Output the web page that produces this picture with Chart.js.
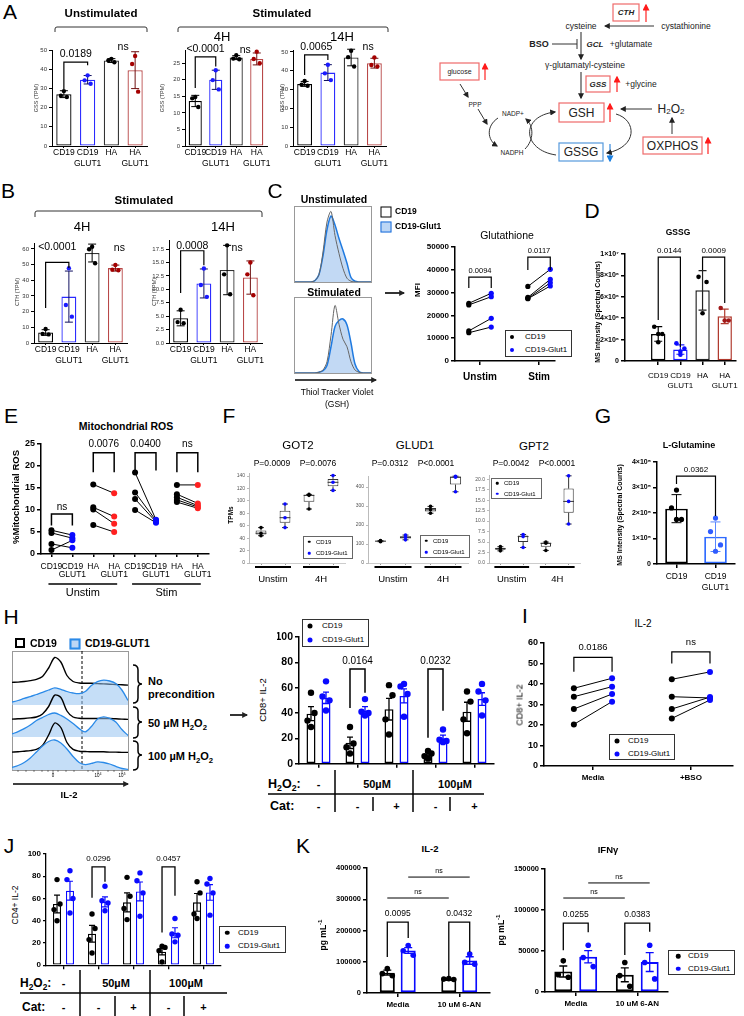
<!DOCTYPE html>
<html>
<head>
<meta charset="utf-8">
<script src="https://cdn.jsdelivr.net/npm/chart.js@4.4.1/dist/chart.umd.min.js"></script>
<style>
  body { margin: 0; width: 744px; height: 1016px; position: relative; overflow: hidden; background: #fff;
         font-family: 'Liberation Sans', Arial, sans-serif; color: #000; }
  canvas { position: absolute; }
  .t { position: absolute; white-space: nowrap; line-height: 1; transform: translate(-50%, -50%); }
  .l { transform: translate(0, -50%); }
  .v { transform: translate(-50%, -50%) rotate(-90deg); }
  .b { font-weight: bold; }
  .lg { position: absolute; border: 1px solid #333; box-sizing: border-box; background: #fff; }
  sub, sup { font-size: 70%; line-height: 0; }
</style>
</head>
<body>
<svg width="744" height="1016" style="position:absolute;left:0;top:0" font-family="Liberation Sans, Arial, sans-serif">
  <defs>
    <marker id="ah" viewBox="0 0 10 10" refX="8" refY="5" markerWidth="6" markerHeight="6" markerUnits="userSpaceOnUse" orient="auto"><path d="M0 0L10 5L0 10z" fill="#222"/></marker>
    <marker id="ahr" viewBox="0 0 10 10" refX="8" refY="5" markerWidth="7" markerHeight="7" markerUnits="userSpaceOnUse" orient="auto"><path d="M0 0L10 5L0 10z" fill="#ff1a1a"/></marker>
    <marker id="ahb" viewBox="0 0 10 10" refX="8" refY="5" markerWidth="7" markerHeight="7" markerUnits="userSpaceOnUse" orient="auto"><path d="M0 0L10 5L0 10z" fill="#1a7fe0"/></marker>
  </defs>
  <!-- group brackets A / B -->
  <g fill="none" stroke="#333" stroke-width="1">
    <path d="M55 32V29Q55 27 57 27H145Q147 27 147 29V32"/>
    <path d="M178 32V29Q178 27 180 27H386Q388 27 388 29V32"/>
    <path d="M35 217V213Q35 211 37 211H260Q262 211 262 213V217"/>
  </g>
  <!-- histogram frames -->
  <g fill="none" stroke="#999" stroke-width="1">
    <rect x="294.5" y="206.5" width="77" height="76"/>
    <rect x="294.5" y="297.5" width="77" height="76"/>
    <rect x="12.5" y="651.5" width="116" height="119"/>
  </g>
  <line x1="82" y1="651" x2="82" y2="770" stroke="#000" stroke-width="1" stroke-dasharray="3,2"/>
  <!-- arrows -->
  <g stroke="#000" stroke-width="1.6" fill="none">
    <line x1="295" y1="380" x2="376" y2="380" marker-end="url(#ah)"/>
    <line x1="385" y1="293" x2="404" y2="293" marker-end="url(#ah)"/>
    <line x1="230" y1="715" x2="247" y2="715" marker-end="url(#ah)"/>
    <line x1="13" y1="784" x2="128" y2="784" marker-end="url(#ah)"/>
  </g>
  <!-- H histogram axis ticks -->
  <g stroke="#333" stroke-width="0.6">
    <line x1="18" y1="770" x2="18" y2="772"/><line x1="26" y1="770" x2="26" y2="772"/><line x1="34" y1="770" x2="34" y2="772"/>
    <line x1="42" y1="770" x2="42" y2="772"/><line x1="48" y1="770" x2="48" y2="772"/><line x1="53" y1="770" x2="53" y2="774"/>
    <line x1="58" y1="770" x2="58" y2="772"/><line x1="66" y1="770" x2="66" y2="772"/><line x1="74" y1="770" x2="74" y2="772"/>
    <line x1="88" y1="770" x2="88" y2="772"/><line x1="93" y1="770" x2="93" y2="772"/><line x1="98" y1="770" x2="98" y2="774"/>
    <line x1="108" y1="770" x2="108" y2="772"/><line x1="114" y1="770" x2="114" y2="772"/><line x1="122" y1="770" x2="122" y2="774"/>
  </g>
  <!-- H braces -->
  <g fill="none" stroke="#000" stroke-width="1.5">
    <path d="M133 665Q138 665 138 670V680Q138 684 142 684Q138 684 138 688V698Q138 703 133 703"/>
    <path d="M133 707Q138 707 138 711V718Q138 722 142 722Q138 722 138 726V734Q138 738 133 738"/>
    <path d="M133 741Q138 741 138 745V751Q138 755 142 755Q138 755 138 759V766Q138 770 133 770"/>
  </g>
  <!-- H / J condition tables -->
  <g stroke="#000" stroke-width="1.5">
    <line x1="335" y1="770" x2="335" y2="812"/><line x1="413" y1="770" x2="413" y2="812"/>
    <line x1="268" y1="794" x2="484" y2="794"/>
    <line x1="373" y1="797" x2="373" y2="811"/><line x1="450" y1="797" x2="450" y2="811"/>
    <line x1="80" y1="970" x2="80" y2="1016"/><line x1="150" y1="970" x2="150" y2="1016"/>
    <line x1="20" y1="993" x2="227" y2="993"/>
    <line x1="115" y1="996" x2="115" y2="1016"/><line x1="184" y1="996" x2="184" y2="1016"/>
  </g>
  <!-- pathway diagram -->
  <g font-size="8.5" text-anchor="middle" dominant-baseline="central" fill="#222">
    <rect x="613" y="4" width="26" height="17" fill="none" stroke="#ee6a6a" stroke-width="1.2"/>
    <text x="626" y="12.5" font-weight="bold" font-style="italic" font-size="8">CTH</text>
    <line x1="646" y1="22" x2="646" y2="5" stroke="#ff2222" stroke-width="1.2" marker-end="url(#ahr)"/>
    <text x="581" y="26">cysteine</text>
    <text x="686" y="26">cystathionine</text>
    <line x1="654" y1="26" x2="605" y2="26" stroke="#333" marker-end="url(#ah)"/>
    <line x1="581" y1="32" x2="581" y2="59" stroke="#555" stroke-width="1.3" marker-end="url(#ah)"/>
    <text x="539" y="44" font-weight="bold" font-size="9">BSO</text>
    <line x1="552" y1="44" x2="577" y2="44" stroke="#333"/>
    <line x1="577" y1="39" x2="577" y2="49" stroke="#333"/>
    <text x="595" y="44" font-weight="bold" font-style="italic" font-size="8">GCL</text>
    <text x="631" y="44">+glutamate</text>
    <text x="585" y="65">γ-glutamatyl-cysteine</text>
    <line x1="581" y1="72" x2="581" y2="98" stroke="#555" stroke-width="1.3" marker-end="url(#ah)"/>
    <rect x="586" y="76" width="24" height="16" fill="none" stroke="#ee6a6a" stroke-width="1.2"/>
    <text x="598" y="84" font-weight="bold" font-style="italic" font-size="8">GSS</text>
    <line x1="617" y1="92" x2="617" y2="77" stroke="#ff2222" stroke-width="1.2" marker-end="url(#ahr)"/>
    <text x="641" y="84">+glycine</text>
    <rect x="559" y="103" width="45" height="19" fill="none" stroke="#ee6a6a" stroke-width="1.2"/>
    <text x="581.5" y="113" font-size="12">GSH</text>
    <line x1="610" y1="122" x2="610" y2="104" stroke="#ff2222" stroke-width="1.2" marker-end="url(#ahr)"/>
    <line x1="652" y1="109" x2="621" y2="109" stroke="#333" marker-end="url(#ah)"/>
    <text x="671" y="109" font-size="12">H<tspan font-size="8" dy="2">2</tspan><tspan dy="-2">O</tspan><tspan font-size="8" dy="2">2</tspan></text>
    <rect x="643" y="137" width="59" height="17" fill="none" stroke="#ee6a6a" stroke-width="1.2"/>
    <text x="672.5" y="146" font-size="12">OXPHOS</text>
    <line x1="708" y1="154" x2="708" y2="138" stroke="#ff2222" stroke-width="1.2" marker-end="url(#ahr)"/>
    <line x1="672" y1="134" x2="672" y2="118" stroke="#333" marker-end="url(#ah)"/>
    <rect x="559" y="143" width="44" height="18" fill="none" stroke="#5599dd" stroke-width="1.2"/>
    <text x="581" y="152" font-size="12">GSSG</text>
    <line x1="610" y1="144" x2="610" y2="161" stroke="#3388dd" stroke-width="1.2" marker-end="url(#ahb)"/>
    <path d="M616 114C637 120 638 147 607 153" fill="none" stroke="#333" marker-end="url(#ah)"/>
    <path d="M556 155C522 150 520 116 555 112" fill="none" stroke="#333" marker-end="url(#ah)"/>
    <text x="513" y="113" font-size="6.5">NADP+</text>
    <text x="512" y="152" font-size="6.5">NADPH</text>
    <path d="M498 118C486 126 487 140 497 146" fill="none" stroke="#333" marker-end="url(#ah)"/>
    <path d="M525 149C534 140 534 126 526 119" fill="none" stroke="#333" marker-end="url(#ah)"/>
    <rect x="440" y="63" width="39" height="17" fill="none" stroke="#ee6a6a" stroke-width="1.2"/>
    <text x="459.5" y="71.5" font-size="7">glucose</text>
    <line x1="485" y1="80" x2="485" y2="64" stroke="#ff2222" stroke-width="1.2" marker-end="url(#ahr)"/>
    <text x="475" y="104" font-size="6.5">PPP</text>
    <line x1="460" y1="84" x2="468" y2="97" stroke="#333" marker-end="url(#ah)"/>
    <line x1="478" y1="109" x2="487" y2="124" stroke="#333" marker-end="url(#ah)"/>
  </g>
</svg>
<script>
// ---------------- data ----------------
var grp4 = [['CD19'], ['CD19', 'GLUT1'], ['HA'], ['HA', 'GLUT1']];
var seriesNames = ['CD19', 'CD19-Glut1'];

// A  GSS (TPM)
var gssUnstim = [27, 34.5, 44.5, 39.5];
var gssUnstimSd = [1.8, 2.2, 1.0, 9.6];
var gssUnstimPts = [[28.6, 26.2, 25.5], [36.8, 34.2, 32.4], [45.4, 44.6, 43.6], [46.9, 42.7, 28.3]];
var gss4h = [13.6, 20, 26.7, 26.3];
var gss4hSd = [1.7, 2.9, 0.6, 1.8];
var gss4hPts = [[14.8, 14.4, 11.8], [22.9, 19.9, 17.1], [27.4, 26.4, 26.2], [28.5, 26.3, 25]];
var gss14h = [33, 39, 47, 44];
var gss14hSd = [1.3, 4.2, 4.4, 2.6];
var gss14hPts = [[34.5, 32.6, 32], [43.2, 38.6, 35], [50.6, 47.2, 42.2], [47, 43, 42.2]];

// B  CTH (TPM)
var cth4h = [6.7, 29.6, 57.4, 47.8];
var cth4hSd = [1.8, 16.3, 5.7, 1.9];
var cth4hPts = [[8.9, 5.8, 5.5], [47.7, 24.2, 16.8], [61.4, 59.8, 50.9], [49.8, 46.8, 46.4]];
var cth14h = [4.6, 11.1, 13.6, 12.2];
var cth14hSd = [1.4, 2.7, 4.6, 3.1];
var cth14hPts = [[6.2, 3.9, 3.7], [13.9, 10.8, 8.6], [18.2, 12.8, 9.1], [15, 12.8, 8.9]];

// C  thiol tracker histograms (20 bins) and glutathione MFI
var histBins = [0, 1, 2, 3, 4, 5, 6, 7, 8, 9, 10, 11, 12, 13, 14, 15, 16, 17, 18, 19];
var cUnCd19 = [0, 0, 0, 0, 0, 2, 10, 40, 80, 94, 62, 38, 18, 5, 1, 0, 0, 0, 0, 0];
var cUnGlut1 = [0, 0, 0, 0, 0, 2, 10, 35, 70, 88, 76, 58, 42, 25, 6, 1, 0, 0, 0, 0];
var cStCd19 = [0, 0, 0, 0, 0, 0, 1, 4, 15, 50, 90, 65, 45, 35, 15, 4, 1, 0, 0, 0];
var cStGlut1 = [0, 0, 0, 0, 0, 0, 1, 3, 10, 35, 62, 70, 72, 64, 40, 12, 2, 0, 0, 0];
var gshCats = ['Unstim', 'Stim'];
var gshUnCd19 = [25300, 24600, 13200, 12400];
var gshUnGlut1 = [29700, 28200, 18700, 14900];
var gshStCd19 = [32700, 27900, 27500, 27300];
var gshStGlut1 = [40200, 35800, 34300, 32900];

// D  GSSG
var gssg = [2.6e6, 1.1e6, 6.8e6, 4.3e6];
var gssgSd = [0.7e6, 0.45e6, 1.9e6, 0.7e6];
var gssgPts = [[3.3e6, 2.6e6, 2.6e6, 1.8e6], [1.7e6, 1.2e6, 0.9e6, 0.6e6], [8.1e6, 7.6e6, 4.6e6], [5.1e6, 3.9e6, 3.9e6]];

// E  mitochondrial ROS (paired donors)
var rosCats = [['CD19'], ['CD19', 'GLUT1'], ['HA'], ['HA', 'GLUT1'], ['CD19'], ['CD19', 'GLUT1'], ['HA'], ['HA', 'GLUT1']];
var rosGroups = ['Unstim', 'Stim'];
var rosUnCd19 = [5.4, 4.8, 2.3, 0.9];
var rosUnGlut1 = [4.3, 3.6, 1.4, 3.1];
var rosUnHa = [15.8, 10.6, 10.1, 6.6];
var rosUnHaGlut1 = [13.8, 8.5, 6.9, 5.0];
var rosStCd19 = [18.5, 14, 12.5, 10];
var rosStGlut1 = [7.8, 7.6, 7.3, 7.1];
var rosStHa = [15.7, 13.6, 12.9, 12.3, 11.8];
var rosStHaGlut1 = [15.7, 11.5, 11.0, 10.7, 10.4];

// F  box plots [min, q1, median, q3, max]
var fGroups = ['Unstim', '4H'];
var fCats = ['CD19', 'CD19-Glut1', 'CD19', 'CD19-Glut1'];
var got2Box = [[44, 46, 48, 52.5, 57], [57, 65, 73, 84, 95], [87, 98.5, 109, 110, 110.5], [117, 123.5, 130, 135.5, 141]];
var got2Pts = [[57, 48, 44], [95, 73, 57], [110.5, 109, 87], [141, 130, 117]];
var glud1Box = [[112, 113.5, 115, 116.5, 118], [122, 128.5, 135, 141, 147], [262, 271, 280, 289, 298], [375, 413, 452, 454.5, 457]];
var glud1Pts = [[118, 115, 112], [147, 135, 122], [298, 280, 262], [457, 452, 375]];
var gpt2Box = [[2.9, 3.15, 3.4, 3.65, 3.9], [3.7, 5.0, 6.3, 6.55, 6.8], [3.0, 3.85, 4.7, 4.85, 5.0], [9.3, 12.0, 14.7, 17.75, 20.8]];
var gpt2Pts = [[3.9, 3.4, 2.9], [6.8, 6.3, 3.7], [5.0, 4.7, 3.0], [20.8, 14.7, 9.3]];

// G  L-glutamine
var glnCats = [['CD19'], ['CD19', 'GLUT1']];
var gln = [2.17e5, 1.07e5];
var glnSd = [0.55e5, 0.58e5];
var glnPts = [[2.9e5, 2.2e5, 1.75e5, 1.75e5], [1.8e5, 1.27e5, 0.75e5, 0.5e5]];

// H  IL-2 histograms (20 bins per row) and CD8+ IL-2 bars
var hHistCd19None = [12, 13, 15, 18, 22, 32, 60, 95, 80, 35, 15, 10, 9, 9, 8, 7, 6, 5, 4, 3];
var hHistGlut1None = [10, 15, 22, 28, 35, 42, 50, 57, 52, 45, 40, 38, 45, 65, 78, 83, 80, 72, 50, 15];
var hHistCd19Low = [3, 4, 5, 7, 10, 20, 45, 83, 75, 30, 10, 6, 5, 5, 5, 5, 5, 4, 3, 2];
var hHistGlut1Low = [10, 18, 28, 40, 55, 65, 75, 80, 72, 60, 45, 28, 17, 35, 60, 67, 62, 50, 25, 5];
var hHistCd19High = [3, 4, 6, 8, 12, 25, 60, 100, 85, 35, 12, 6, 5, 4, 4, 4, 3, 3, 2, 2];
var hHistGlut1High = [8, 15, 25, 40, 60, 80, 95, 100, 90, 70, 45, 25, 18, 22, 27, 25, 20, 12, 5, 2];
var h2o2Row = ['-', '50µM', '100µM'];
var catRow = ['-', '-', '+', '-', '+'];
var hCd19 = [39.5, 16.5, 43, 7.5, 41];
var hGlut1 = [52, 42, 53.5, 20, 51];
var hCd19Sem = [5.5, 4.5, 8.5, 1.5, 7.5];
var hGlut1Sem = [4.5, 3, 5.5, 2.5, 5];
var hCd19Pts = [[56, 40, 34, 29], [29, 16, 13, 8], [62, 54, 35, 23], [10, 8, 6, 4], [57, 49, 35, 24]];
var hGlut1Pts = [[65, 53, 50, 42], [51, 41, 40, 38], [63, 61, 55, 37], [27, 19, 18, 17], [63, 57, 50, 38]];

// I  IL-2 with BSO (paired)
var bsoCats = ['Media', '+BSO'];
var il2MediaCd19 = [37.9, 33.8, 27.8, 20.3];
var il2MediaGlut1 = [42.8, 38.7, 35.1, 31.4];
var il2BsoCd19 = [42.3, 33.8, 27.8, 23.2];
var il2BsoGlut1 = [45.9, 33.2, 33.6, 32.2];

// J  CD4+ IL-2
var jCd19 = [55, 28.3, 56.5, 12.2, 56.5];
var jGlut1 = [67, 57, 66.3, 29.2, 65.4];
var jCd19Sem = [8, 7.5, 8.5, 3, 8];
var jGlut1Sem = [8.5, 4.5, 8.5, 4.5, 7];
var jCd19Pts = [[77, 55, 50, 40], [46, 33, 23, 11], [79, 62, 51, 41], [17, 16, 13, 3], [75, 65, 46, 42]];
var jGlut1Pts = [[85, 77, 60, 47], [71, 58, 56, 49], [83, 76, 65, 44], [42, 28, 27, 21], [78, 73, 65, 45]];

// K  cytokines with 6-AN
var anCats = ['Media', '10 uM 6-AN'];
var il2AnCd19 = [65000, 44500];
var il2AnGlut1 = [136000, 104000];
var il2AnCd19Sem = [8000, 1000];
var il2AnGlut1Sem = [9000, 12000];
var il2AnCd19Pts = [[78000, 62000, 55000], [46000, 44500, 43000]];
var il2AnGlut1Pts = [[152000, 135000, 121000], [125000, 98000, 92000]];
var ifnAnCd19 = [25000, 21000];
var ifnAnGlut1 = [43000, 36500];
var ifnAnCd19Sem = [6700, 8500];
var ifnAnGlut1Sem = [7500, 11500];
var ifnAnCd19Pts = [[38000, 21000, 18000], [36000, 20000, 7000]];
var ifnAnGlut1Pts = [[57000, 42000, 31000], [57000, 36000, 16000]];

// ---------------- helpers ----------------
var FAM = "'Liberation Sans', Arial, sans-serif";
Chart.defaults.font.family = FAM;
Chart.defaults.color = '#000';
Chart.defaults.animation = false;
Chart.defaults.events = [];
Chart.defaults.plugins.legend.display = false;
Chart.defaults.plugins.tooltip.enabled = false;

var BLUE = '#0a0aff';

function pick(v, i) { return Array.isArray(v) ? v[i] : v; }

// error bars, dots, significance brackets, group underlines, box whiskers
var deco = {
  id: 'deco',
  afterDraw: function (chart, args, o) {
    var ctx = chart.ctx, ys = chart.scales.y, xs = chart.scales.x;
    function xp(a) { return Array.isArray(a) ? chart.getDatasetMeta(a[0]).data[a[1]].x : xs.getPixelForValue(a); }
    ctx.save();
    (o.boxes || []).forEach(function (bx) {
      bx.stats.forEach(function (s, i) {
        var x = xs.getPixelForValue(i), w = bx.cap;
        ctx.strokeStyle = bx.col; ctx.lineWidth = 1;
        ctx.beginPath();
        ctx.moveTo(x, ys.getPixelForValue(s[3])); ctx.lineTo(x, ys.getPixelForValue(s[4]));
        ctx.moveTo(x - w, ys.getPixelForValue(s[4])); ctx.lineTo(x + w, ys.getPixelForValue(s[4]));
        ctx.moveTo(x, ys.getPixelForValue(s[1])); ctx.lineTo(x, ys.getPixelForValue(s[0]));
        ctx.moveTo(x - w, ys.getPixelForValue(s[0])); ctx.lineTo(x + w, ys.getPixelForValue(s[0]));
        ctx.moveTo(x - bx.half, ys.getPixelForValue(s[2])); ctx.lineTo(x + bx.half, ys.getPixelForValue(s[2]));
        ctx.stroke();
      });
    });
    (o.bars || []).forEach(function (b) {
      var ds = b.ds || 0, meta = chart.getDatasetMeta(ds), vals = chart.data.datasets[ds].data;
      meta.data.forEach(function (el, i) {
        var v = vals[i], x = el.x;
        if (b.err && typeof v === 'number') {
          var e = b.err[i], yt = ys.getPixelForValue(v + e), yb = ys.getPixelForValue(Math.max(v - e, 0));
          ctx.strokeStyle = pick(b.col, i); ctx.lineWidth = b.ew || 1;
          ctx.beginPath();
          ctx.moveTo(x, yt); ctx.lineTo(x, yb);
          ctx.moveTo(x - b.cap, yt); ctx.lineTo(x + b.cap, yt);
          ctx.moveTo(x - b.cap, yb); ctx.lineTo(x + b.cap, yb);
          ctx.stroke();
        }
        (b.pts[i] || []).forEach(function (p, k) {
          ctx.fillStyle = pick(b.pc, i);
          ctx.beginPath();
          ctx.arc(x + (b.jit ? b.jit[k % b.jit.length] : 0), ys.getPixelForValue(p), b.r, 0, Math.PI * 2);
          ctx.fill();
        });
      });
    });
    (o.brk || []).forEach(function (k) {
      var fs = k.fs || o.fs || 9, gap = k.gap != null ? k.gap : (o.gap || 7);
      ctx.font = (o.fw || 'normal') + ' ' + fs + 'px ' + FAM;
      ctx.fillStyle = '#000'; ctx.textAlign = 'center'; ctx.textBaseline = 'middle';
      if (k.b == null) {
        ctx.fillText(k.t, xp(k.a) + (k.dx || 0), ys.getPixelForValue(k.y));
        return;
      }
      var xa = xp(k.a), xb = xp(k.b), yt = ys.getPixelForValue(k.y);
      ctx.strokeStyle = '#000'; ctx.lineWidth = k.lw || o.lw || 1.2;
      ctx.beginPath();
      if (k.la != null) { ctx.moveTo(xa, ys.getPixelForValue(k.la)); ctx.lineTo(xa, yt); } else ctx.moveTo(xa, yt);
      ctx.lineTo(xb, yt);
      if (k.lb != null) ctx.lineTo(xb, ys.getPixelForValue(k.lb));
      ctx.stroke();
      ctx.fillText(k.t, (xa + xb) / 2, yt - gap);
    });
    (o.groups || []).forEach(function (g) {
      var x0 = xp(g.from) - g.ext, x1 = xp(g.to) + g.ext, y = chart.chartArea.bottom + g.dy;
      ctx.strokeStyle = '#000'; ctx.lineWidth = g.lw;
      ctx.beginPath(); ctx.moveTo(x0, y); ctx.lineTo(x1, y); ctx.stroke();
      ctx.font = g.fs + 'px ' + FAM; ctx.fillStyle = '#000'; ctx.textAlign = 'center'; ctx.textBaseline = 'middle';
      ctx.fillText(g.t, (x0 + x1) / 2, y + g.ty);
    });
    ctx.restore();
  }
};
Chart.register(deco);

// canvas whose chart area lands exactly on box = [left, top, right, bottom]
function mk(box, pad, cfg) {
  var l = pad[0], t = pad[1], r = pad[2], b = pad[3];
  var w = box[2] - box[0] + l + r, h = box[3] - box[1] + t + b;
  var c = document.createElement('canvas');
  c.width = w; c.height = h;
  c.style.left = (box[0] - l) + 'px';
  c.style.top = (box[1] - t) + 'px';
  document.body.appendChild(c);
  var o = cfg.options = cfg.options || {};
  o.responsive = false;
  o.animation = false;
  var sc = o.scales = o.scales || {};
  var padL = 0, padB = 0;
  if (sc.y && sc.y.display !== false) sc.y.afterFit = function (s) { s.width = l; }; else padL = l;
  if (sc.x && sc.x.display !== false) sc.x.afterFit = function (s) { s.height = b; }; else padB = b;
  o.layout = { padding: { left: padL, top: t, right: r, bottom: padB } };
  var ch = new Chart(c, cfg);
  ch.$left = box[0] - l; ch.$top = box[1] - t;
  return ch;
}

function yAx(max, step, fs, o) {
  o = o || {};
  return {
    min: 0, max: max,
    ticks: { stepSize: step, includeBounds: false, font: { size: fs, weight: o.bold ? 'bold' : 'normal' },
             color: o.tc || '#000', padding: o.pad || 2, callback: o.cb || function (v) { return String(v); } },
    grid: { drawOnChartArea: false, tickLength: o.tl || 3, color: o.bc || '#000', lineWidth: o.lw || 1 },
    border: { color: o.bc || '#000', width: o.lw || 1 }
  };
}
function xCat(fs, o) {
  o = o || {};
  return {
    offset: true,
    ticks: { display: !o.hide, font: { size: fs, weight: o.bold ? 'bold' : 'normal', lineHeight: o.lh || 1.2 },
             padding: o.pad || 0, maxRotation: 0, autoSkip: false, color: '#000' },
    grid: { offset: false, drawOnChartArea: false, tickLength: o.tl || 2, color: o.gc || o.bc || '#000', lineWidth: o.lw || 1 },
    border: { color: o.bc || '#000', width: o.lw || 1 }
  };
}
function xLin(min, max, cats, fs, o) {
  o = o || {};
  return {
    type: 'linear', min: min, max: max,
    afterBuildTicks: function (s) { s.ticks = cats.map(function (c, i) { return { value: i + 1 }; }); },
    ticks: { callback: function (v, i) { return cats[i]; }, font: { size: fs, weight: 'bold' }, padding: o.pad || 3, maxRotation: 0 },
    grid: { drawOnChartArea: false, tickLength: 4, color: '#000', lineWidth: o.lw || 1.5 },
    border: { color: '#000', width: o.lw || 1.5 }
  };
}
var SUP = { 5: '⁵', 6: '⁶', 7: '⁷' };
function sci(v) {
  if (v === 0) return '0';
  var p = Math.floor(Math.log10(v) + 1e-9);
  return Math.round(v / Math.pow(10, p)) + '×10' + SUP[p];
}
// paired-donor line datasets on a linear x axis
function pairSets(xa, xb, a, b, ca, cb, r) {
  return a.map(function (v, k) {
    return { data: [{ x: xa, y: v }, { x: xb, y: b[k] }], borderColor: '#000', borderWidth: 1,
             pointRadius: r, pointBorderWidth: 0, pointBackgroundColor: [ca, cb] };
  });
}

function T(x, y, s, size, cls, css) {
  var d = document.createElement('div');
  d.className = 't ' + (cls || '');
  d.innerHTML = s;
  d.style.left = x + 'px'; d.style.top = y + 'px'; d.style.fontSize = size + 'px';
  if (css) d.style.cssText += css;
  document.body.appendChild(d);
  return d;
}
function legend(l, t, w, h, fs, dot, bx, tx, cols, border) {
  var d = document.createElement('div');
  d.className = 'lg';
  d.style.cssText += 'left:' + l + 'px;top:' + t + 'px;width:' + w + 'px;height:' + h + 'px;' + (border ? 'border-color:' + border + ';' : '');
  document.body.appendChild(d);
  seriesNames.forEach(function (n, k) {
    var y = t + h * (2 * k + 1) / (2 * seriesNames.length);
    T(l + bx, y, '', 0, '', 'width:' + dot + 'px;height:' + dot + 'px;border-radius:50%;background:' + cols[k]);
    T(l + tx, y, n, fs, 'l');
  });
}
function swatch(l, t, s, fill, stroke, bw) {
  T(l + s / 2, t + s / 2, '', 0, '', 'width:' + s + 'px;height:' + s + 'px;box-sizing:border-box;background:' + fill + ';border:' + bw + 'px solid ' + stroke);
}

// ---------------- A ----------------
var aBorder = ['#000', '#2a2aff', '#333', '#b84848'];
var aErr = ['#000', '#101060', '#000', '#701010'];
var aPt = ['#000', '#1a1aff', '#000', '#a40000'];
function tpmChart(box, vals, sd, pts, max, step, brk, cb) {
  return mk(box, [24, 40, 6, 26], {
    type: 'bar',
    data: { labels: grp4, datasets: [{ data: vals, backgroundColor: '#fff', borderColor: aBorder, borderWidth: 1.3,
                                       borderSkipped: false, barPercentage: 0.64, categoryPercentage: 1 }] },
    options: {
      scales: { x: xCat(8.5, { tl: 2 }), y: yAx(max, step, 6, { tc: '#333', cb: cb }) },
      plugins: { deco: { bars: [{ err: sd, pts: pts, col: aErr, pc: aPt, r: 2.2, cap: 4, jit: [0, -3, 3] }],
                         brk: brk, fs: 10.5, gap: 7.5 } }
    }
  });
}
tpmChart([52, 50, 147, 146], gssUnstim, gssUnstimSd, gssUnstimPts, 50, 10,
  [{ a: 0, b: 1, y: 43.7, la: 29.5, lb: 42, t: '0.0189' }, { a: 3, dx: -12, y: 51.6, t: 'ns' }]);
tpmChart([185, 50, 267, 146], gss4h, gss4hSd, gss4hPts, 29, 5,
  [{ a: 0, b: 1, y: 26.9, la: 17.5, lb: 24, t: '<0.0001' }, { a: 2, dx: 9, y: 29, t: 'ns' }]);
tpmChart([293, 50, 386, 146], gss14h, gss14hSd, gss14hPts, 51, 10,
  [{ a: 0, b: 1, y: 48.4, la: 37.7, lb: 45.7, t: '0.0065' }, { a: 2, dx: 17, y: 52.7, t: 'ns' }]);

// ---------------- B ----------------
tpmChart([34, 243, 127, 343], cth4h, cth4hSd, cth4hPts, 63.8, 10,
  [{ a: 0, b: 1, y: 51.5, la: 22.3, lb: 47.9, t: '<0.0001', gap: 15 }, { a: 3, dx: 4, y: 60.6, t: 'ns' }]);
tpmChart([169, 240, 262, 343], cth14h, cth14hSd, cth14hPts, 19.2, 2.5,
  [{ a: 0, b: 1, y: 17.2, la: 9.3, lb: 14.5, t: '0.0008', gap: 5 }, { a: 2, dx: 10, y: 17.6, t: 'ns' }],
  function (v) { return v.toFixed(1); });

// ---------------- C ----------------
function histC(box, gray, blue) {
  mk(box, [0, 0, 0, 0], {
    type: 'line',
    data: { labels: histBins, datasets: [
      { data: gray, borderColor: '#666', borderWidth: 1, pointRadius: 0, tension: 0.3, fill: false },
      { data: blue, borderColor: '#1f7ae0', borderWidth: 1.5, pointRadius: 0, tension: 0.3, fill: 'origin', backgroundColor: 'rgba(120,170,230,0.45)' }
    ] },
    options: { scales: { x: { display: false, offset: false }, y: { display: false, min: 0, max: 100 } } }
  });
}
histC([295, 207, 371, 282], cUnCd19, cUnGlut1);
histC([295, 298, 371, 373], cStCd19, cStGlut1);

mk([455, 247, 555, 361], [36, 10, 6, 24], {
  type: 'line',
  data: { datasets: pairSets(0.81, 1.19, gshUnCd19, gshUnGlut1, '#000', BLUE, 2.6)
          .concat(pairSets(1.81, 2.19, gshStCd19, gshStGlut1, '#000', BLUE, 2.6)) },
  options: {
    scales: { x: xLin(0.576, 2.27, gshCats, 10, { pad: 6 }), y: yAx(50000, 10000, 8, { bold: true, lw: 1.5, tl: 4 }) },
    plugins: { deco: { brk: [{ a: 0.81, b: 1.19, y: 36800, la: 32000, lb: 32000, t: '0.0094' },
                             { a: 1.81, b: 2.19, y: 45600, la: 39900, lb: 39900, t: '0.0117' }], fs: 7.5, gap: 6 } }
  }
});

// ---------------- D ----------------
var dBorder = ['#000', '#000', '#1a1aff', '#222', '#b03a2e'];
mk([625, 254, 740, 361], [30, 12, 4, 32], {
  type: 'bar',
  data: { labels: [''].concat(grp4), datasets: [{ data: [null].concat(gssg), backgroundColor: '#fff', borderColor: dBorder,
          borderWidth: 1.5, borderSkipped: false, barPercentage: 0.65, categoryPercentage: 1 }] },
  options: {
    scales: {
      x: (function () { var x = xCat(8, { tl: 4, pad: 6, lw: 1.5 }); x.grid.color = function (c) { return c.index === 0 ? 'rgba(0,0,0,0)' : '#000'; }; return x; })(),
      y: yAx(1.03e7, 2e6, 7, { bold: true, lw: 1.5, tl: 4, cb: sci })
    },
    plugins: { deco: { bars: [{ err: [0].concat(gssgSd), pts: [[]].concat(gssgPts), col: dBorder, pc: ['#000', '#000', BLUE, '#000', '#a01818'],
                                r: 2.3, cap: 4, jit: [-4, 4, 0, 0], ew: 1.2 }],
                       brk: [{ a: 1, b: 2, y: 1.0e7, la: 3.94e6, lb: 1.35e6, t: '0.0144' },
                             { a: 3, b: 4, y: 1.0e7, la: 8.75e6, lb: 5.58e6, t: '0.0009' }], fs: 8, gap: 6 } }
  }
});

// ---------------- E ----------------
var rosPtCol = ['#000', BLUE, '#000', '#ff2020', '#000', BLUE, '#000', '#ff2020'];
var rosPairs = [[0, rosUnCd19, rosUnGlut1], [2, rosUnHa, rosUnHaGlut1], [4, rosStCd19, rosStGlut1], [6, rosStHa, rosStHaGlut1]];
var rosSets = [];
rosPairs.forEach(function (p) {
  p[1].forEach(function (v, k) {
    var d = rosCats.map(function () { return null; });
    d[p[0]] = v; d[p[0] + 1] = p[2][k];
    rosSets.push({ data: d, borderColor: '#000', borderWidth: 1, pointRadius: 3, pointBorderWidth: 0, pointBackgroundColor: rosPtCol });
  });
});
mk([41, 444, 210, 554], [24, 12, 8, 46], {
  type: 'line',
  data: { labels: rosCats, datasets: rosSets },
  options: {
    scales: { x: xCat(8.5, { tl: 3, pad: 6, lh: 0.95, lw: 1.5 }), y: yAx(25, 5, 9, { bold: true, lw: 1.5, tl: 4 }) },
    plugins: { deco: {
      brk: [{ a: 0, b: 1, y: 9.1, la: 6.5, lb: 6.5, t: 'ns', gap: 6.5 },
            { a: 2, b: 3, y: 23, la: 18.6, lb: 18.6, t: '0.0076' },
            { a: 4, b: 5, y: 23, la: 19, lb: 19, t: '0.0400' },
            { a: 6, b: 7, y: 23, la: 18.6, lb: 18.6, t: 'ns' }], fs: 10, gap: 8.5, lw: 1.5,
      groups: [{ from: 0, to: 3, ext: 3, dy: 30, lw: 1.3, t: rosGroups[0], fs: 11, ty: 9 },
               { from: 4, to: 7, ext: 3, dy: 30, lw: 1.3, t: rosGroups[1], fs: 11, ty: 9 }] } }
  }
});

// ---------------- F ----------------
function boxChart(box, stats, pts, max, step, cb) {
  return mk(box, [16, 6, 4, 22], {
    type: 'bar',
    data: { labels: fCats, datasets: [{ data: stats.map(function (s) { return [s[1], s[3]]; }), backgroundColor: '#fff',
            borderColor: '#333', borderWidth: 1, borderSkipped: false, barPercentage: 0.45, categoryPercentage: 1 }] },
    options: {
      scales: { x: xCat(5, { hide: true, tl: 2, bc: '#ccc', gc: '#999' }), y: yAx(max, step, 5, { tc: '#555', bc: '#bbb', tl: 2, cb: cb }) },
      plugins: { deco: {
        boxes: [{ stats: stats, col: '#333', cap: 3, half: 5.4 }],
        bars: [{ pts: pts, pc: ['#000', BLUE, '#000', BLUE], r: 1.8 }],
        groups: [{ from: 0, to: 1, ext: 6, dy: 4, lw: 2, t: fGroups[0], fs: 9.5, ty: 12 },
                 { from: 2, to: 3, ext: 6, dy: 4, lw: 2, t: fGroups[1], fs: 9.5, ty: 12 }] } }
    }
  });
}
boxChart([249, 473, 345, 563], got2Box, got2Pts, 145, 20);
boxChart([368, 476, 468, 563], glud1Box, glud1Pts, 458, 100);
boxChart([489, 475, 580, 563], gpt2Box, gpt2Pts, 21, 2.5, function (v) { return v.toFixed(1); });

// ---------------- G ----------------
mk([657, 462, 735, 564], [30, 18, 6, 30], {
  type: 'bar',
  data: { labels: glnCats, datasets: [{ data: gln, backgroundColor: '#fff', borderColor: ['#000', '#2f6bff'], borderWidth: 1.8,
          borderSkipped: false, barPercentage: 0.58, categoryPercentage: 1 }] },
  options: {
    scales: { x: xCat(8.5, { tl: 4, pad: 4, lw: 1.5 }), y: yAx(4e5, 1e5, 7, { bold: true, lw: 1.5, tl: 4, cb: sci }) },
    plugins: { deco: { bars: [{ err: glnSd, pts: glnPts, col: ['#000', '#5a88ff'], pc: ['#000', '#2f5cff'], r: 2.6, cap: 5, jit: [0, -5, 5, 0] }],
                       brk: [{ a: 0, b: 1, y: 3.45e5, la: 3.14e5, lb: 1.88e5, t: '0.0362' }], fs: 8, gap: 6 } }
  }
});

// ---------------- H ----------------
var hBase = [35, 54, 69, 86, 102, 119];
var hRows = [[hHistCd19None, false], [hHistGlut1None, true], [hHistCd19Low, false], [hHistGlut1Low, true], [hHistCd19High, false], [hHistGlut1High, true]];
var hScales = { x: { display: false, offset: false } };
var hSets = hRows.map(function (r, i) {
  hScales['y' + i] = { display: false, min: (hBase[i] - 119) / 0.3, max: hBase[i] / 0.3 };
  return { data: r[0], yAxisID: 'y' + i, pointRadius: 0, tension: 0.3,
           borderColor: r[1] ? '#2a8ae8' : '#000', borderWidth: r[1] ? 1.3 : 1.4,
           fill: r[1] ? 'origin' : false, backgroundColor: 'rgba(150,195,240,0.55)', order: 6 - i };
});
mk([12, 651, 128, 770], [0, 0, 0, 0], { type: 'line', data: { labels: histBins, datasets: hSets }, options: { scales: hScales } });

var hChart = mk([299, 637, 494, 764], [22, 10, 4, 8], {
  type: 'bar',
  data: { labels: catRow, datasets: [
    { data: hCd19, backgroundColor: '#fff', borderColor: '#000', borderWidth: 1.5, borderSkipped: false, barPercentage: 0.6, categoryPercentage: 0.77 },
    { data: hGlut1, backgroundColor: '#fff', borderColor: BLUE, borderWidth: 1.5, borderSkipped: false, barPercentage: 0.6, categoryPercentage: 0.77 }] },
  options: {
    scales: { x: xCat(8, { hide: true, tl: 4, lw: 1.5 }), y: yAx(100, 20, 10.5, { bold: true, lw: 1.5, tl: 4 }) },
    plugins: { deco: {
      bars: [{ ds: 0, err: hCd19Sem, pts: hCd19Pts, col: '#000', pc: '#000', r: 3.2, cap: 3, jit: [0, 3.5, -3.5, 0], ew: 1.3 },
             { ds: 1, err: hGlut1Sem, pts: hGlut1Pts, col: BLUE, pc: BLUE, r: 3.2, cap: 3, jit: [0, -3.5, 3.5, 0], ew: 1.3 }],
      brk: [{ a: [0, 1], b: [1, 1], y: 74.8, la: 44, lb: 56, t: '0.0164' },
            { a: [0, 3], b: [1, 3], y: 74.8, la: 20.5, lb: 41.7, t: '0.0232' }], fs: 10, gap: 8, lw: 1.5 } }
  }
});

// ---------------- I ----------------
mk([544, 643, 733, 766], [22, 14, 6, 18], {
  type: 'line',
  data: { datasets: pairSets(0.805, 1.195, il2MediaCd19, il2MediaGlut1, '#000', BLUE, 3)
          .concat(pairSets(1.805, 2.195, il2BsoCd19, il2BsoGlut1, '#000', BLUE, 3)) },
  options: {
    scales: { x: xLin(0.5, 2.43, bsoCats, 8), y: yAx(60, 10, 9, { bold: true, lw: 1.5, tl: 4 }) },
    plugins: { deco: { brk: [{ a: 0.805, b: 1.195, y: 53, la: 46, lb: 46, t: '0.0186' },
                             { a: 1.805, b: 2.195, y: 55.7, la: 50, lb: 50, t: 'ns' }], fs: 9.5, gap: 9.5 } }
  }
});

// ---------------- J ----------------
var jChart = mk([46, 854, 221, 966], [20, 14, 4, 6], {
  type: 'bar',
  data: { labels: catRow, datasets: [
    { data: jCd19, backgroundColor: '#fff', borderColor: '#000', borderWidth: 1.3, borderSkipped: false, barPercentage: 0.62, categoryPercentage: 0.74 },
    { data: jGlut1, backgroundColor: '#fff', borderColor: BLUE, borderWidth: 1.3, borderSkipped: false, barPercentage: 0.62, categoryPercentage: 0.74 }] },
  options: {
    scales: { x: xCat(8, { hide: true, tl: 4, lw: 1.3 }), y: yAx(100, 20, 8, { bold: true, lw: 1.3, tl: 3 }) },
    plugins: { deco: {
      bars: [{ ds: 0, err: jCd19Sem, pts: jCd19Pts, col: '#000', pc: '#000', r: 2.7, cap: 3, jit: [0, 3, -3, 0], ew: 1.2 },
             { ds: 1, err: jGlut1Sem, pts: jGlut1Pts, col: BLUE, pc: BLUE, r: 2.7, cap: 3, jit: [0, -3, 3, 0], ew: 1.2 }],
      brk: [{ a: [0, 1], b: [1, 1], y: 88.4, la: 60.7, lb: 75, t: '0.0296' },
            { a: [0, 3], b: [1, 3], y: 88.4, la: 29.5, lb: 62.5, t: '0.0457' }], fs: 8, gap: 8, lw: 1.3 } }
  }
});

// ---------------- K ----------------
function anChart(box, c19, g1, c19s, g1s, c19p, g1p, max, step, cat, brk) {
  return mk(box, [44, 8, 4, 18], {
    type: 'bar',
    data: { labels: anCats, datasets: [
      { data: c19, backgroundColor: '#fff', borderColor: '#000', borderWidth: 2, borderSkipped: false, barPercentage: 0.72, categoryPercentage: cat },
      { data: g1, backgroundColor: '#fff', borderColor: BLUE, borderWidth: 2, borderSkipped: false, barPercentage: 0.72, categoryPercentage: cat }] },
    options: {
      scales: { x: xCat(8, { bold: true, tl: 4, pad: 3, lw: 1.5 }), y: yAx(max, step, 7.5, { bold: true, lw: 1.5, tl: 4 }) },
      plugins: { deco: {
        bars: [{ ds: 0, err: c19s, pts: c19p, col: '#000', pc: '#000', r: 2.8, cap: 4, jit: [0, -5, 5], ew: 1.3 },
               { ds: 1, err: g1s, pts: g1p, col: BLUE, pc: BLUE, r: 2.8, cap: 4, jit: [0, -5, 5], ew: 1.3 }],
        brk: brk, fs: 8.5, gap: 8, lw: 1.3 } }
    }
  });
}
anChart([367, 868, 490, 993], il2AnCd19, il2AnGlut1, il2AnCd19Sem, il2AnGlut1Sem, il2AnCd19Pts, il2AnGlut1Pts, 400000, 100000, 0.68,
  [{ a: [0, 0], b: [1, 0], y: 227000, la: 115000, lb: 176000, t: '0.0095' },
   { a: [0, 1], b: [1, 1], y: 227000, la: 48000, lb: 131000, t: '0.0432' },
   { a: [1, 0], b: [1, 1], y: 371000, t: 'ns', fs: 7, gap: 6, lw: 1 },
   { a: [0, 0], b: [0, 1], y: 304000, t: 'ns', fs: 7, gap: 6, lw: 1 }]);
anChart([545, 869, 668, 992], ifnAnCd19, ifnAnGlut1, ifnAnCd19Sem, ifnAnGlut1Sem, ifnAnCd19Pts, ifnAnGlut1Pts, 150000, 50000, 0.81,
  [{ a: [0, 0], b: [1, 0], y: 84000, la: 51000, lb: 73000, t: '0.0255' },
   { a: [0, 1], b: [1, 1], y: 84000, la: 45000, lb: 73500, t: '0.0383' },
   { a: [1, 0], b: [1, 1], y: 133000, t: 'ns', fs: 7, gap: 6, lw: 1 },
   { a: [0, 0], b: [0, 1], y: 114600, t: 'ns', fs: 7, gap: 6, lw: 1 }]);

// ---------------- text ----------------
[['A', 10, 11], ['B', 8, 190], ['C', 275, 190], ['D', 592, 210], ['E', 11, 415], ['F', 229, 415], ['G', 603, 415],
 ['H', 11, 616], ['I', 525, 615], ['J', 9, 845], ['K', 303, 845]].forEach(function (p) { T(p[1], p[2], p[0], 21); });

T(101, 14, 'Unstimulated', 11.5, 'b'); T(282, 14, 'Stimulated', 11.5, 'b');
T(222, 36, '4H', 13); T(342, 36, '14H', 13);
T(37, 98, 'GSS (TPM)', 5.5, 'v', 'color:#333'); T(163, 98, 'GSS (TPM)', 5.5, 'v', 'color:#333'); T(283, 98, 'GSS (TPM)', 5.5, 'v', 'color:#333');
T(144, 201, 'Stimulated', 11.5, 'b'); T(82, 226, '4H', 13); T(223, 226, '14H', 13);
T(18, 292, 'CTH (TPM)', 5.5, 'v', 'color:#333'); T(155, 292, 'CTH (TPM)', 5.5, 'v', 'color:#333');

T(334, 199, 'Unstimulated', 10.5, 'b'); T(334, 292, 'Stimulated', 10.5, 'b');
T(337, 392, 'Thiol Tracker Violet', 8.5); T(337, 404, '(GSH)', 8.5);
swatch(380, 206, 11, '#fff', '#000', 1.5); T(395, 211, 'CD19', 8.5, 'l b');
swatch(380, 221, 11, '#bcd6f5', '#1a6fdc', 1.5); T(395, 226, 'CD19-Glut1', 8.5, 'l b');
T(507, 235, 'Glutathione', 10.5); T(418, 290, 'MFI', 8, 'v b');
legend(505, 330, 67, 27, 8, 4, 7, 20, ['#000', BLUE]);

T(678, 232, 'GSSG', 8.5, 'b'); T(597, 312, 'MS Intensity (Spectral Counts)', 7, 'v b');

T(126, 426, 'Mitochondrial ROS', 10.5, 'b'); T(16, 497, '%Mitochondrial ROS', 9.5, 'v b');

T(298, 446, 'GOT2', 11.5); T(415, 446, 'GLUD1', 11.5); T(534, 447, 'GPT2', 11.5);
[['P=0.0009', 272], ['P=0.0076', 318], ['P=0.0312', 390], ['P<0.0001', 436], ['P=0.0042', 511], ['P<0.0001', 557]].forEach(function (p) { T(p[1], 463, p[0], 8.5); });
T(231, 515, 'TPMs', 6.5, 'v b');
legend(303, 536, 50, 23, 6, 2.5, 6, 13, ['#000', BLUE], '#666');
legend(420, 535, 50, 23, 6, 2.5, 6, 13, ['#000', BLUE], '#666');
legend(491, 478, 51, 21, 6, 2.5, 6, 13, ['#000', BLUE], '#666');

T(689, 445, 'L-Glutamine', 9, 'b'); T(619, 515, 'MS Intensity (Spectral Counts)', 7, 'v b');

swatch(15, 638, 10, '#fff', '#000', 2); T(30, 643, 'CD19', 10.5, 'l b');
swatch(69, 638, 11, '#bcd6f5', '#2a8ae8', 2); T(85, 643, 'CD19-GLUT1', 10.5, 'l b');
T(148, 681, 'No', 11, 'l b'); T(148, 694, 'precondition', 11, 'l b');
T(148, 723, '50 µM H<sub>2</sub>O<sub>2</sub>', 11, 'l b'); T(148, 756, '100 µM H<sub>2</sub>O<sub>2</sub>', 11, 'l b');
T(53, 776, '0', 4.5); T(98, 776, '10<sup>4</sup>', 4.5); T(122, 776, '10<sup>5</sup>', 4.5);
T(69, 795, 'IL-2', 9.5, 'b');
T(263, 700, 'CD8+ IL-2', 9.5, 'v');
legend(302, 619, 67, 28, 8, 5, 8, 20, ['#000', BLUE]);

function tableText(ch, yTop, yBot, fsHead, fsVal, labX) {
  var xs = ch.scales.x;
  function gx(i) { return ch.$left + xs.getPixelForValue(i); }
  T(labX, yTop, 'H<sub>2</sub>O<sub>2</sub>:', fsHead, 'l b');
  T(labX + 2, yBot, 'Cat:', fsHead, 'l b');
  T(gx(0), yTop, h2o2Row[0], fsVal, 'b');
  T((gx(1) + gx(2)) / 2, yTop, h2o2Row[1], fsVal, 'b');
  T((gx(3) + gx(4)) / 2, yTop, h2o2Row[2], fsVal, 'b');
  catRow.forEach(function (c, i) { T(gx(i), yBot, c, fsVal, 'b'); });
}
tableText(hChart, 784, 806, 12.5, 11, 268);
tableText(jChart, 983, 1007, 12, 11, 20);

T(643, 624, 'IL-2', 10); T(520, 705, 'CD8+ IL-2', 9, 'v');
legend(609, 734, 66, 26, 8, 5, 8, 19, ['#000', BLUE]);

T(15, 905, 'CD4+ IL-2', 8.5, 'v');
legend(219, 926, 67, 27, 8, 4.5, 8, 19, ['#000', BLUE]);

T(430, 849, 'IL-2', 9.5, 'b'); T(608, 850, 'IFNγ', 9.5, 'b');
T(323, 935, 'pg mL<sup>-1</sup>', 8.5, 'v b'); T(501, 930, 'pg mL<sup>-1</sup>', 8.5, 'v b');
legend(668, 950, 67, 25, 8, 4.5, 10, 20, ['#000', BLUE]);
</script>
</body>
</html>
